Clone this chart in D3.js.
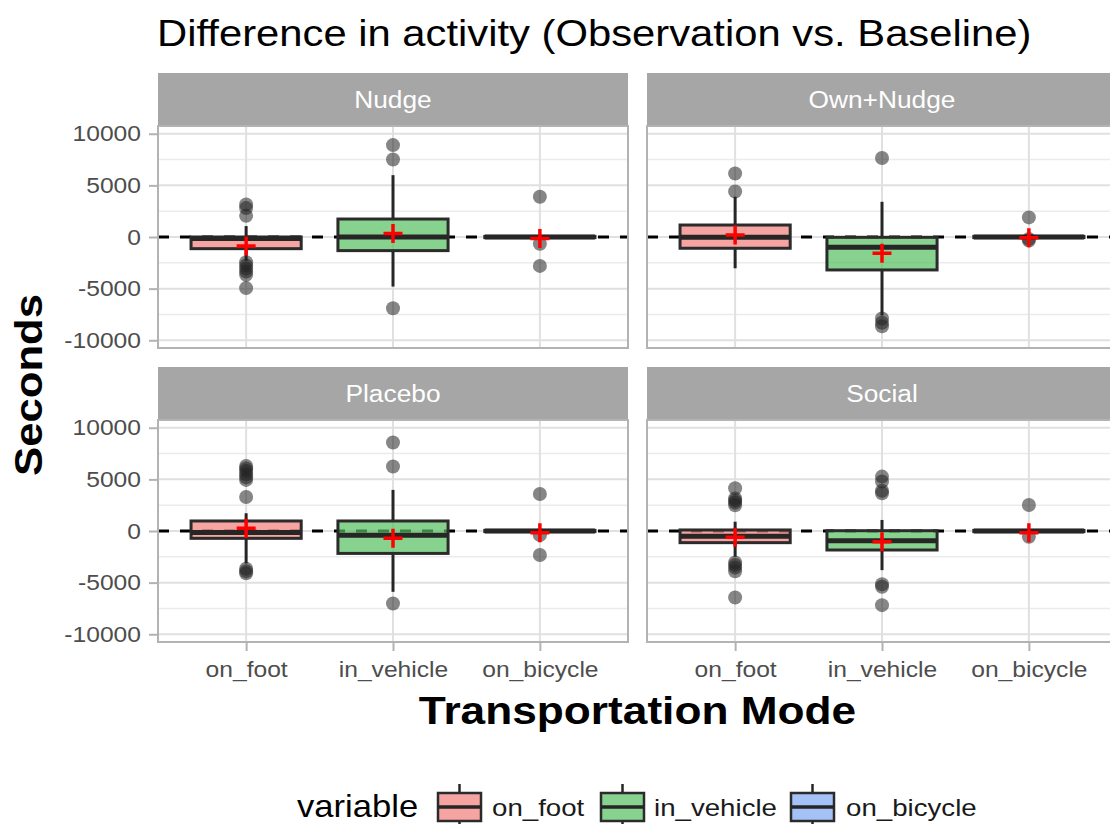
<!DOCTYPE html>
<html>
<head>
<meta charset="utf-8">
<script src="https://cdn.jsdelivr.net/npm/d3@7"></script>
<style>
  html, body { margin: 0; padding: 0; background: #fff; }
  svg { display: block; font-family: "Liberation Sans", Arial, Helvetica, sans-serif; }
</style>
</head>
<body>
<svg id="chart" width="1110" height="824"></svg>
<script>
// ---- data -------------------------------------------------------------
const panels = ["Nudge", "Own+Nudge", "Placebo", "Social"];
const modes = ["on_foot", "in_vehicle", "on_bicycle"];
const yTicks = [-10000, -5000, 0, 5000, 10000];
const yMinorTicks = [-7500, -2500, 2500, 7500];

// box statistics, one row per panel, one entry per mode
const lowerWhisker = [
  [-2300, -4800, -100],
  [-3030, -7600, -100],
  [-3140, -5890, -100],
  [-2490, -3790, -100]
];
const q1 = [
  [-1130, -1320, -60],
  [-1090, -3190, -60],
  [-710, -2170, -60],
  [-1130, -1840, -60]
];
const median = [
  [-150, 0, 0],
  [-30, -1000, 0],
  [-150, -420, 0],
  [-500, -940, 0]
];
const q3 = [
  [0, 1740, 60],
  [1160, -30, 60],
  [970, 970, 60],
  [100, 30, 60]
];
const upperWhisker = [
  [1060, 5990, 100],
  [3900, 3410, 100],
  [1720, 3980, 100],
  [900, 1070, 100]
];
const means = [
  [-870, 350, -150],
  [190, -1580, -80],
  [260, -710, -160],
  [-610, -1040, -160]
];
const outliers = [
  [[3150, 2800, 2050, -2450, -2750, -3050, -3350, -3650, -4950], [8900, 7500, -6900], [3900, -650, -2800]],
  [[6150, 4400], [7650, -7900, -8300, -8650], [1900, -200, -350]],
  [[6300, 6050, 5800, 5500, 5200, 4950, 3300, -3650, -3900, -4100], [8570, 6240, -7020], [3590, -400, -2330]],
  [[4140, 3150, 2950, 2750, 2500, -3050, -3300, -3550, -3900, -6440], [5270, 4790, 3900, 3660, -5150, -5400, -7180], [2520, -550]]
];

const fills = ["#F17E7A", "#52BF5E", "#7EA8F2"];
const fillOpacity = 0.7;

// ---- layout -----------------------------------------------------------
const W = 1110, H = 824;
const cols = [[158, 628], [647, 1117]];
const rows = [
  { strip: [73, 125], panel: [126, 348] },
  { strip: [367, 419], panel: [420, 642] }
];
const SX = 1.12; // horizontal text stretch
const svg = d3.select("#chart");

function stretchedText(g, x, y, txt, opts) {
  return g.append("text")
    .attr("transform", `translate(${x},${y}) scale(${opts.sx || SX},1)`)
    .attr("text-anchor", opts.anchor || "start")
    .attr("font-size", opts.size)
    .attr("font-weight", opts.weight || "normal")
    .attr("fill", opts.color || "#000")
    .text(txt);
}

// title
stretchedText(svg, 157, 46, "Difference in activity (Observation vs. Baseline)", { size: 37.3 });

panels.forEach((name, pi) => {
  const r = rows[Math.floor(pi / 2)];
  const c = cols[pi % 2];
  const x = d3.scalePoint().domain(modes).range(c).padding(0.6);
  const y = d3.scaleLinear().domain([-10750, 10750]).range([r.panel[1], r.panel[0]]);
  const step = x.step();
  const g = svg.append("g");

  // strip
  g.append("rect")
    .attr("x", c[0]).attr("y", r.strip[0])
    .attr("width", c[1] - c[0]).attr("height", r.strip[1] - r.strip[0])
    .attr("fill", "#a6a6a6");
  stretchedText(g, (c[0] + c[1]) / 2, (r.strip[0] + r.strip[1]) / 2 + 8.5, name,
    { size: 23.5, anchor: "middle", color: "#ffffff" });

  // grid
  g.selectAll(".minor").data(yMinorTicks).join("line")
    .attr("x1", c[0]).attr("x2", c[1])
    .attr("y1", d => y(d)).attr("y2", d => y(d))
    .attr("stroke", "#ebebeb").attr("stroke-width", 1.4);
  g.selectAll(".major").data(yTicks).join("line")
    .attr("x1", c[0]).attr("x2", c[1])
    .attr("y1", d => y(d)).attr("y2", d => y(d))
    .attr("stroke", "#e0e0e0").attr("stroke-width", 2);
  g.selectAll(".vmajor").data(modes).join("line")
    .attr("x1", d => x(d)).attr("x2", d => x(d))
    .attr("y1", r.panel[0]).attr("y2", r.panel[1])
    .attr("stroke", "#e0e0e0").attr("stroke-width", 2);

  // zero reference line
  g.append("line")
    .attr("x1", c[0]).attr("x2", c[1])
    .attr("y1", y(0)).attr("y2", y(0))
    .attr("stroke", "#000").attr("stroke-width", 3)
    .attr("stroke-dasharray", "11,11");

  // boxes
  modes.forEach((m, mi) => {
    const cx = x(m);
    const hw = step * 0.375;
    const bg = g.append("g");
    // whiskers
    bg.append("line")
      .attr("x1", cx).attr("x2", cx)
      .attr("y1", y(upperWhisker[pi][mi])).attr("y2", y(q3[pi][mi]))
      .attr("stroke", "#262626").attr("stroke-width", 3);
    bg.append("line")
      .attr("x1", cx).attr("x2", cx)
      .attr("y1", y(q1[pi][mi])).attr("y2", y(lowerWhisker[pi][mi]))
      .attr("stroke", "#262626").attr("stroke-width", 3);
    // box
    bg.append("rect")
      .attr("x", cx - hw).attr("width", 2 * hw)
      .attr("y", y(q3[pi][mi])).attr("height", y(q1[pi][mi]) - y(q3[pi][mi]))
      .attr("fill", fills[mi]).attr("fill-opacity", fillOpacity)
      .attr("stroke", "#2b2b2b").attr("stroke-width", 3);
    // median
    bg.append("line")
      .attr("x1", cx - hw).attr("x2", cx + hw)
      .attr("y1", y(median[pi][mi])).attr("y2", y(median[pi][mi]))
      .attr("stroke", "#262626").attr("stroke-width", 5);
    // outliers
    bg.selectAll("circle").data(outliers[pi][mi]).join("circle")
      .attr("cx", cx).attr("cy", d => y(d)).attr("r", 7)
      .attr("fill", "#222").attr("fill-opacity", 0.55);
    // mean marker
    const my = y(means[pi][mi]);
    bg.append("path")
      .attr("d", `M${cx - 9.5},${my}H${cx + 9.5}M${cx},${my - 9.5}V${my + 9.5}`)
      .attr("stroke", "#ff0000").attr("stroke-width", 3.5);
  });

  // panel border
  g.append("rect")
    .attr("x", c[0]).attr("y", r.panel[0])
    .attr("width", c[1] - c[0]).attr("height", r.panel[1] - r.panel[0])
    .attr("fill", "none").attr("stroke", "#b3b3b3").attr("stroke-width", 2);

  // y axis on left column
  if (pi % 2 === 0) {
    const ax = g.append("g").attr("transform", `translate(${c[0] - 1},0)`)
      .call(d3.axisLeft(y).tickValues(yTicks).tickSize(8).tickPadding(8).tickFormat(d => String(d)));
    ax.select(".domain").remove();
    ax.selectAll(".tick line").attr("stroke", "#b3b3b3").attr("stroke-width", 2);
    ax.selectAll(".tick text")
      .attr("font-size", 22).attr("fill", "#4d4d4d")
      .attr("font-family", "Liberation Sans, Arial, sans-serif")
      .each(function () {
        const t = d3.select(this);
        const tx = +t.attr("x");
        t.attr("x", 0).attr("transform", `translate(${tx},0) scale(${SX},1)`);
      });
  }
  // x axis on bottom row
  if (pi >= 2) {
    const ax = g.append("g").attr("transform", `translate(0,${r.panel[1] + 1})`)
      .call(d3.axisBottom(x).tickSize(8).tickPadding(8));
    ax.select(".domain").remove();
    ax.selectAll(".tick line").attr("stroke", "#b3b3b3").attr("stroke-width", 2);
    ax.selectAll(".tick text")
      .attr("font-size", 22).attr("fill", "#4d4d4d")
      .attr("font-family", "Liberation Sans, Arial, sans-serif")
      .attr("y", 0).attr("dy", 0)
      .attr("transform", `translate(0,34) scale(${SX},1)`);
  }
});

// axis titles
stretchedText(svg, 637.5, 724, "Transportation Mode", { size: 39.5, weight: "bold", anchor: "middle" });
svg.append("text")
  .attr("transform", `translate(42,385) rotate(-90) scale(${SX},1)`)
  .attr("text-anchor", "middle")
  .attr("font-size", 39).attr("font-weight", "bold")
  .text("Seconds");

// legend
const legend = svg.append("g");
stretchedText(legend, 297, 817, "variable", { size: 30.9 });
const keyCenters = [459.5, 622.5, 812.5];
const keyLabelX = [492, 654, 846];
modes.forEach((m, i) => {
  const cx = keyCenters[i], cy = 807;
  legend.append("line").attr("x1", cx).attr("x2", cx).attr("y1", cy - 23).attr("y2", cy - 14)
    .attr("stroke", "#262626").attr("stroke-width", 2.5);
  legend.append("line").attr("x1", cx).attr("x2", cx).attr("y1", cy + 14).attr("y2", cy + 23)
    .attr("stroke", "#262626").attr("stroke-width", 2.5);
  legend.append("rect").attr("x", cx - 21.5).attr("y", cy - 14).attr("width", 43).attr("height", 28)
    .attr("fill", fills[i]).attr("fill-opacity", fillOpacity)
    .attr("stroke", "#2b2b2b").attr("stroke-width", 2.5);
  legend.append("line").attr("x1", cx - 21.5).attr("x2", cx + 21.5).attr("y1", cy).attr("y2", cy)
    .attr("stroke", "#262626").attr("stroke-width", 3.5);
  stretchedText(legend, keyLabelX[i], 816, m, { size: 24.7, color: "#1a1a1a" });
});
</script>
</body>
</html>
